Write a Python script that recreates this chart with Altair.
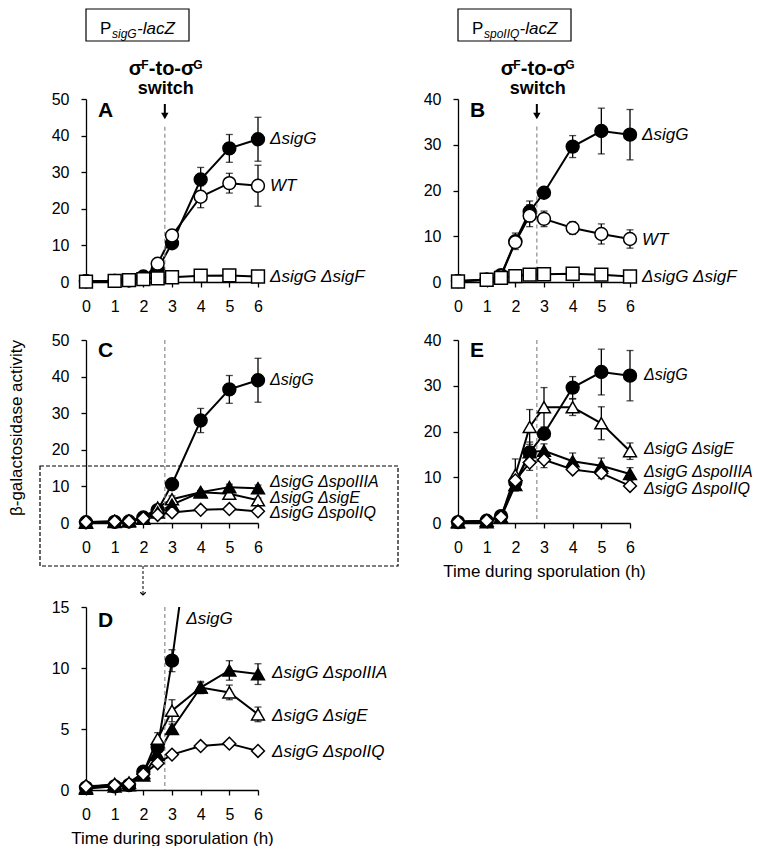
import altair as alt
import pandas as pd

FONT = "Liberation Sans"

time = [0, 1, 1.5, 2, 2.5, 3, 4, 5, 6]
x_ticks = [0, 1, 2, 3, 4, 5, 6]
switch_time = 2.75

# ---- P_sigG-lacZ reporter (panels A, C, D) ----
psigG_sigG = [0.2, 0.3, 0.4, 1.5, 3.5, 10.6, 28.0, 36.5, 39.0]
psigG_sigG_err = [0, 0, 0, 0, 0, 0.9, 3.3, 3.8, 6.0]
psigG_WT = [0.2, 0.3, 0.5, 1.0, 5.0, 12.7, 23.3, 27.0, 26.3]
psigG_WT_err = [0, 0, 0, 0, 0, 0, 3.0, 2.7, 5.6]
psigG_sigF = [0.1, 0.3, 0.5, 0.8, 1.0, 1.3, 1.7, 1.8, 1.5]
psigG_sigF_err = [0, 0, 0, 0, 0, 0, 0, 0, 0]
psigG_spoIIIA = [0.1, 0.3, 0.4, 1.2, 2.9, 5.0, 8.4, 9.8, 9.5]
psigG_spoIIIA_err = [0, 0, 0, 0, 0, 0.4, 0.5, 0.8, 0.85]
psigG_sigE = [0.2, 0.5, 0.6, 1.4, 4.2, 6.5, 8.4, 8.0, 6.2]
psigG_sigE_err = [0, 0, 0, 0, 0.5, 0.9, 0.4, 0.6, 0.6]
psigG_spoIIQ = [0.3, 0.4, 0.5, 1.3, 2.2, 2.9, 3.6, 3.8, 3.2]
psigG_spoIIQ_err = [0, 0, 0, 0, 0, 0, 0, 0, 0]

# ---- P_spoIIQ-lacZ reporter (panels B, E) ----
pspo_sigG = [0.2, 0.5, 1.5, 8.9, 15.4, 19.5, 29.6, 33.0, 32.2]
pspo_sigG_err = [0, 0, 0, 1.8, 2.3, 0, 2.4, 5.0, 5.5]
pspo_WT = [0.2, 0.5, 1.3, 8.7, 14.5, 13.8, 11.8, 10.5, 9.4]
pspo_WT_err = [0, 0, 0, 0, 2.4, 1.7, 1.4, 2.2, 2.0]
pspo_sigF = [0.1, 0.5, 0.9, 1.3, 1.6, 1.7, 1.8, 1.6, 1.2]
pspo_sigF_err = [0, 0, 0, 0, 0, 0, 0, 0, 0]
pspo_sigE = [0.3, 0.5, 1.3, 10.5, 21.0, 25.3, 25.3, 21.8, 15.7]
pspo_sigE_err = [0, 0, 0, 3.5, 3.8, 4.3, 1.8, 3.6, 1.8]
pspo_spoIIIA = [0.1, 0.2, 1.2, 8.3, 15.5, 15.8, 13.5, 12.5, 10.7]
pspo_spoIIIA_err = [0, 0, 0, 0, 0, 1.5, 1.8, 1.7, 1.4]
pspo_spoIIQ = [0.3, 0.5, 1.3, 9.3, 13.2, 13.8, 11.7, 10.9, 8.1]
pspo_spoIIQ_err = [0, 0, 0, 0, 1.7, 1.7, 0, 1.2, 0]

# series names
N_SIGG = "ΔsigG"
N_WT = "WT"
N_SIGF = "ΔsigG ΔsigF"
N_IIIA = "ΔsigG ΔspoIIIA"
N_SIGE = "ΔsigG ΔsigE"
N_IIQ = "ΔsigG ΔspoIIQ"

# label anchor values (data units) for the right-hand labels
labels_A = [(N_SIGG, 39.2), (N_WT, 26.1), (N_SIGF, 1.35)]
labels_B = [(N_SIGG, 32.1), (N_WT, 9.15), (N_SIGF, 1.1)]
labels_C = [(N_SIGG, 39.2), (N_IIIA, 11.2), (N_SIGE, 6.9), (N_IIQ, 2.6)]
labels_E = [(N_SIGG, 32.4), (N_SIGE, 16.2), (N_IIIA, 11.2), (N_IIQ, 7.5)]
labels_D = [(N_IIIA, 9.6), (N_SIGE, 6.1), (N_IIQ, 3.1)]
label_D_sigG = (3.5, 14.0)

STYLE = {
    N_SIGG: ("circle", "black"),
    N_WT: ("circle", "white"),
    N_SIGF: ("square", "white"),
    N_IIIA: ("triangle-up", "black"),
    N_SIGE: ("triangle-up", "white"),
    N_IIQ: ("diamond", "white"),
}

# layout (pixels)
W = 172
H = 183
EXTRA = 26          # extra space under row 2 (gap to panel D)
ROW_SP = 58
COL_SP = 200

one = pd.DataFrame({"k": [0]})


def txt(text, x, y, size, weight="normal", style="normal", align="left",
        baseline="alphabetic", angle=0):
    return alt.Chart(one).mark_text(
        text=text, fontSize=size, fontWeight=weight, fontStyle=style,
        align=align, baseline=baseline, angle=angle, font=FONT, color="black"
    ).encode(x=alt.value(x), y=alt.value(y))


def box(x1, x2, y1, y2, dash=None, fill="white"):
    kw = dict(stroke="black", strokeWidth=1.2)
    if dash:
        kw["strokeDash"] = dash
    if fill is None:
        kw["fillOpacity"] = 0
        kw["fill"] = "white"
    else:
        kw["fill"] = fill
    return alt.Chart(one).mark_rect(**kw).encode(
        x=alt.value(x1), x2=alt.value(x2), y=alt.value(y1), y2=alt.value(y2))


def header(sub, sub_w, box_w):
    return [
        box(0, box_w, -90, -58),
        txt("P", 14, -65.5, 17),
        txt(sub, 26, -61.5, 12, style="italic"),
        txt("-lacZ", 26 + sub_w, -65.5, 17, style="italic"),
    ]


def switch_note(xpix):
    return [
        txt("σ", xpix - 36, -24.5, 20, weight="bold"),
        txt("F", xpix - 23.5, -30.5, 12, weight="bold"),
        txt("-to-σ", xpix - 16, -24.5, 20, weight="bold"),
        txt("G", xpix + 28.5, -30.5, 12, weight="bold"),
        txt("switch", xpix + 1, -5, 18, weight="bold", align="center"),
        alt.Chart(one).mark_rule(color="black", strokeWidth=2).encode(
            x=alt.value(xpix), x2=alt.value(xpix), y=alt.value(5), y2=alt.value(15)),
        alt.Chart(one).mark_point(shape="triangle-down", size=55, filled=True,
                                  color="black", opacity=1).encode(
            x=alt.value(xpix), y=alt.value(17)),
    ]


def panel(series, labels, ymax, yticks, dash_top, letter, letter_base,
          extras=(), height=H, yrange=None, xoff=0, xtitle=None,
          clip=False, vmax=None, label_dx=12, extra_labels=None,
          label_size=17):
    rows = []
    for name, vals, errs in series:
        for t, v, e in zip(time, vals, errs):
            rows.append(dict(s=name, t=t, v=v, e=e))
    df = pd.DataFrame(rows)
    names = [s[0] for s in series]

    sc_kw = dict(domain=[0, ymax], nice=False, zero=True)
    if yrange is not None:
        sc_kw["range"] = yrange
    yscale = alt.Scale(**sc_kw)
    xscale = alt.Scale(domain=[0, 6], nice=False)
    ax_kw = dict(values=x_ticks, offset=xoff, labelOverlap=False,
                 labelFlush=False, tickCount=7)
    ax_kw["title"] = xtitle if xtitle else None
    xaxis = alt.Axis(**ax_kw)
    yaxis = alt.Axis(values=yticks, title=None, labelOverlap=False,
                     labelFlush=False)

    def X(f):
        return alt.X(f, type="quantitative", scale=xscale, axis=xaxis)

    def Y(f):
        return alt.Y(f, type="quantitative", scale=yscale, axis=yaxis)

    base = alt.Chart(df)
    base_pts = base.transform_filter(f"datum.v <= {vmax}") if vmax else base

    line = base.mark_line(color="black", strokeWidth=2, clip=clip).encode(
        x=X("t"), y=Y("v"), detail="s:N")

    ddf = pd.DataFrame({"t": [switch_time], "v": [dash_top], "v0": [0]})
    dash = alt.Chart(ddf).mark_rule(color="#8c8c8c", strokeDash=[4, 3],
                                    strokeWidth=1.2).encode(
        x=X("t"), y=Y("v"), y2="v0:Q")

    err = base_pts.transform_filter("datum.e > 0").transform_calculate(
        lo="datum.v - datum.e", hi="datum.v + datum.e")
    rule = err.mark_rule(color="black", strokeWidth=1.3).encode(
        x=X("t"), y=Y("lo"), y2="hi:Q")
    cap_lo = err.mark_tick(color="black", orient="horizontal", size=7,
                           thickness=1.3).encode(x=X("t"), y=Y("lo"))
    cap_hi = err.mark_tick(color="black", orient="horizontal", size=7,
                           thickness=1.3).encode(x=X("t"), y=Y("hi"))

    pts = base_pts.mark_point(filled=True, size=165, stroke="black",
                              strokeWidth=1.5, opacity=1).encode(
        x=X("t"), y=Y("v"),
        shape=alt.Shape("s:N", scale=alt.Scale(
            domain=names, range=[STYLE[n][0] for n in names]), legend=None),
        fill=alt.Fill("s:N", scale=alt.Scale(
            domain=names, range=[STYLE[n][1] for n in names]), legend=None),
    )

    ldf = pd.DataFrame({"lab": [l[0] for l in labels],
                        "ly": [l[1] for l in labels],
                        "lx": [6] * len(labels)})
    lab = alt.Chart(ldf).mark_text(
        align="left", baseline="middle", dx=label_dx, fontSize=label_size,
        fontStyle="italic", font=FONT, color="black").encode(
        x=X("lx"), y=Y("ly"), text="lab:N")

    layers = [line, dash, rule, cap_lo, cap_hi, pts, lab]
    if extra_labels is not None:
        edf = pd.DataFrame({"lab": [extra_labels[0]], "lx": [extra_labels[1]],
                            "ly": [extra_labels[2]]})
        layers.append(alt.Chart(edf).mark_text(
            align="left", baseline="middle", fontSize=17, fontStyle="italic",
            font=FONT, color="black").encode(x=X("lx"), y=Y("ly"), text="lab:N"))
    layers.append(txt(letter, 12, letter_base, 21, weight="bold"))
    layers += list(extras)
    return alt.layer(*layers).properties(width=W, height=height)


S_A = [(N_SIGG, psigG_sigG, psigG_sigG_err), (N_WT, psigG_WT, psigG_WT_err),
       (N_SIGF, psigG_sigF, psigG_sigF_err)]
S_B = [(N_SIGG, pspo_sigG, pspo_sigG_err), (N_WT, pspo_WT, pspo_WT_err),
       (N_SIGF, pspo_sigF, pspo_sigF_err)]
S_C = [(N_SIGG, psigG_sigG, psigG_sigG_err),
       (N_SIGE, psigG_sigE, psigG_sigE_err),
       (N_IIIA, psigG_spoIIIA, psigG_spoIIIA_err),
       (N_IIQ, psigG_spoIIQ, psigG_spoIIQ_err)]
S_E = [(N_SIGG, pspo_sigG, pspo_sigG_err),
       (N_SIGE, pspo_sigE, pspo_sigE_err),
       (N_IIIA, pspo_spoIIIA, pspo_spoIIIA_err),
       (N_IIQ, pspo_spoIIQ, pspo_spoIIQ_err)]

TITLE_X = "Time during sporulation (h)"
switch_px = W * switch_time / 6

pA = panel(S_A, labels_A, 50, [0, 10, 20, 30, 40, 50], 42.4, "A", 18,
           extras=header("sigG", 25, 103) + switch_note(switch_px))
pB = panel(S_B, labels_B, 40, [0, 10, 20, 30, 40], 34, "B", 18,
           extras=header("spoIIQ", 35.5, 113) + switch_note(switch_px))

c_extras = [
    txt("β-galactosidase activity", -69, 88, 17, align="center",
        baseline="middle", angle=270),
    box(-46, 312, 126, 226, dash=[4, 2], fill=None),
    alt.Chart(one).mark_rule(color="black", strokeWidth=1, strokeDash=[3, 2]).encode(
        x=alt.value(57), x2=alt.value(57), y=alt.value(226), y2=alt.value(256)),
    alt.Chart(one).mark_point(shape="M-1,-1L0,0L1,-1", size=30, filled=False,
                              color="black", strokeWidth=1.2, opacity=1).encode(
        x=alt.value(57), y=alt.value(255)),
]
pC = panel(S_C, labels_C, 50, [0, 10, 20, 30, 40, 50], 50, "C", 17,
           extras=c_extras, height=H + EXTRA, yrange=[H, 0], xoff=-EXTRA,
           label_size=16)
pE = panel(S_E, labels_E, 40, [0, 10, 20, 30, 40], 40, "E", 17,
           height=H + EXTRA, yrange=[H, 0], xoff=-EXTRA, xtitle=TITLE_X,
           label_dx=14, label_size=16)
pD = panel(S_C, labels_D, 15, [0, 5, 10, 15], 15, "D", 20,
           xtitle=TITLE_X, clip=True, vmax=15, label_dx=14,
           extra_labels=(N_SIGG, label_D_sigG[0], label_D_sigG[1]))

chart = alt.concat(pA, pB, pC, pE, pD, columns=2,
                   spacing={"row": ROW_SP, "column": COL_SP},
                   bounds="flush").resolve_scale(
    x="independent", y="independent", shape="independent", fill="independent"
).properties(padding={"left": 0, "top": 0, "right": 0, "bottom": 0}
).configure_view(stroke=None).configure_axis(
    grid=False, domainColor="black", domainWidth=1.3, tickColor="black",
    tickWidth=1.3, tickSize=5, labelFont=FONT, labelFontSize=16,
    labelColor="black", titleFont=FONT, titleFontSize=17,
    titleFontWeight="normal", titleColor="black", titlePadding=8,
    labelOverlap=False, labelFlush=False
).configure_axisX(labelPadding=11).configure_axisY(labelPadding=12)

chart.save("out.html", embed_options={"renderer": "svg", "actions": False})
